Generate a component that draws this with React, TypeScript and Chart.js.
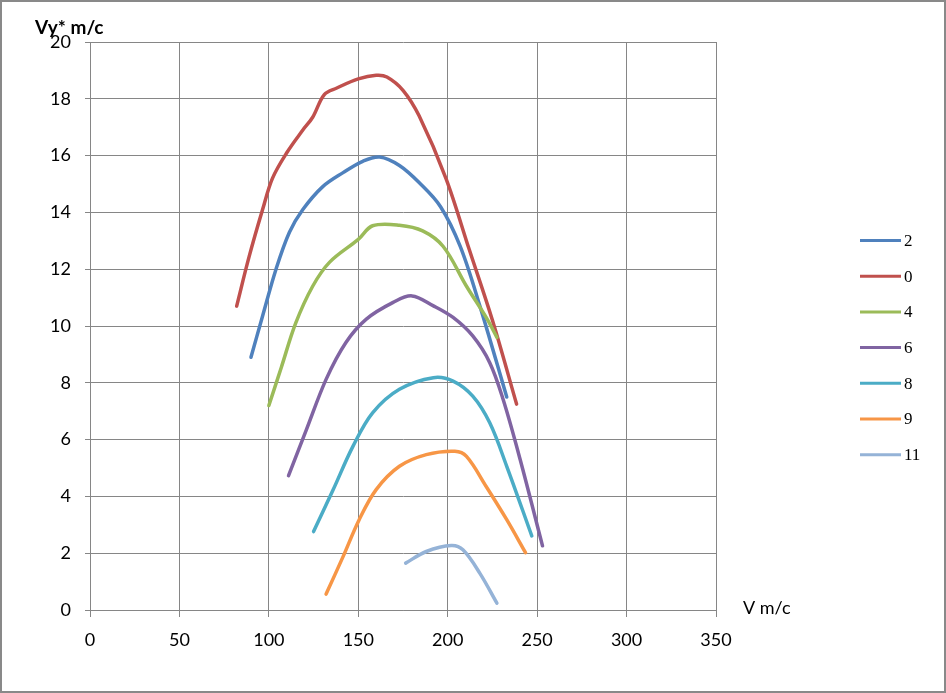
import React, { useEffect, useRef } from "react";
import { Chart, registerables } from "chart.js";

Chart.register(...registerables);

// altitude labels, in legend order
const altitudes = ["2", "0", "4", "6", "8", "9", "11"];
const colors = ["#4F81BD", "#C0504D", "#9BBB59", "#8064A2", "#4BACC6", "#F79646", "#95B3D7"];

// V (m/c) and Vy* (m/c)
const speed2 = [90, 96.5, 104, 111.5, 119, 130, 141.5, 152.5, 162, 173, 184, 196, 207, 218, 233];
const climb2 = [8.9, 10.35, 12.0, 13.3, 14.1, 14.9, 15.4, 15.8, 15.95, 15.65, 15.05, 14.2, 12.8, 10.7, 7.5];

const speed0 = [82, 89, 96.5, 102, 110, 119, 124.5, 131, 138, 150, 160, 166, 175, 184, 199, 212, 225, 238.5];
const climb0 = [10.7, 12.45, 14.1, 15.2, 16.1, 16.9, 17.35, 18.15, 18.38, 18.7, 18.83, 18.77, 18.3, 17.4, 15.2, 12.7, 10.2, 7.25];

const speed4 = [100, 107, 115, 124.5, 134, 150, 158, 173, 186, 197.5, 210.5, 221.5, 227.5];
const climb4 = [7.2, 8.55, 10.1, 11.4, 12.25, 13.05, 13.53, 13.55, 13.35, 12.8, 11.4, 10.3, 9.6];

const speed6 = [111, 121, 132, 143, 154.5, 169.5, 180, 192, 203, 214, 223.5, 231, 240.5, 253];
const climb6 = [4.73, 6.35, 8.12, 9.41, 10.24, 10.83, 11.06, 10.71, 10.3, 9.65, 8.71, 7.41, 5.3, 2.26];

const speed8 = [125, 136, 147, 158, 173, 192, 203, 214, 223.5, 233, 247];
const climb8 = [2.76, 4.24, 5.76, 6.94, 7.77, 8.18, 8.06, 7.53, 6.59, 5.06, 2.61];

const speed9 = [132, 141.5, 150.5, 160, 173, 188, 204, 210.5, 221.5, 233, 243.5];
const climb9 = [0.56, 1.88, 3.18, 4.24, 5.06, 5.47, 5.59, 5.41, 4.35, 3.18, 2.02];

const speed11 = [176.5, 188, 202, 208.5, 218, 227.5];
const climb11 = [1.65, 2.06, 2.27, 2.12, 1.29, 0.24];

const speeds = [speed2, speed0, speed4, speed6, speed8, speed9, speed11];
const climbs = [climb2, climb0, climb4, climb6, climb8, climb9, climb11];

const xTitle = "V m/c";
const yTitle = "Vy* m/c";

const gridColor = "#868686";

const titlesAndLegend = {
  id: "titlesAndLegend",
  afterDraw(chart: Chart) {
    const ctx = chart.ctx;
    ctx.save();
    ctx.fillStyle = "#000";
    ctx.textBaseline = "middle";
    ctx.textAlign = "left";
    ctx.font = "bold 19px Lato";
    ctx.fillText(yTitle, 35, 28);
    ctx.font = "18px Lato";
    ctx.fillText(xTitle, 743, 608);

    // legend
    ctx.font = "17px 'Liberation Serif'";
    chart.data.datasets.forEach((ds, i) => {
      const y = 240.5 + i * 35.7;
      ctx.strokeStyle = ds.borderColor as string;
      ctx.lineWidth = 3;
      ctx.beginPath();
      ctx.moveTo(860, y);
      ctx.lineTo(901, y);
      ctx.stroke();
      ctx.fillText(ds.label as string, 904, y + 1);
    });
    ctx.restore();
  },
};

const App: React.FC = () => {
  const canvasRef = useRef<HTMLCanvasElement | null>(null);

  useEffect(() => {
    if (!canvasRef.current) return;

    const chart = new Chart(canvasRef.current, {
      type: "scatter",
      data: {
        datasets: altitudes.map((label, i) => ({
          label,
          data: speeds[i].map((x, j) => ({ x, y: climbs[i][j] })),
          showLine: true,
          borderColor: colors[i],
          backgroundColor: colors[i],
          borderWidth: 3.5,
          borderCapStyle: "round" as const,
          borderJoinStyle: "round" as const,
          pointRadius: 0,
          pointHoverRadius: 0,
          tension: 0.35,
          order: -i,
        })),
      },
      options: {
        responsive: false,
        animation: false,
        layout: { padding: { left: 0, top: 42, right: 230, bottom: 0 } },
        plugins: {
          legend: { display: false },
          tooltip: { enabled: false },
        },
        scales: {
          x: {
            type: "linear",
            min: 0,
            max: 350,
            ticks: { stepSize: 50, color: "#000", font: { family: "Lato", size: 18 }, padding: 12 },
            grid: { color: gridColor, lineWidth: 1, tickLength: 7 },
            border: { color: gridColor },
            afterFit: (scale) => {
              scale.height = 83;
            },
          },
          y: {
            type: "linear",
            min: 0,
            max: 20,
            ticks: { stepSize: 2, color: "#000", font: { family: "Lato", size: 18 }, padding: 14 },
            grid: { color: gridColor, lineWidth: 1, tickLength: 5 },
            border: { color: gridColor },
            afterFit: (scale) => {
              scale.width = 90;
            },
          },
        },
      },
      plugins: [titlesAndLegend],
    });

    return () => {
      chart.destroy();
    };
  }, []);

  return (
    <div
      style={{
        position: "absolute",
        left: 0,
        top: 0,
        width: 946,
        height: 693,
        background: "#fff",
      }}
    >
      <canvas ref={canvasRef} width={946} height={693} style={{ display: "block" }} />
      <div
        style={{
          position: "absolute",
          inset: 0,
          border: "2px solid #898989",
          pointerEvents: "none",
        }}
      />
    </div>
  );
};

export default App;
